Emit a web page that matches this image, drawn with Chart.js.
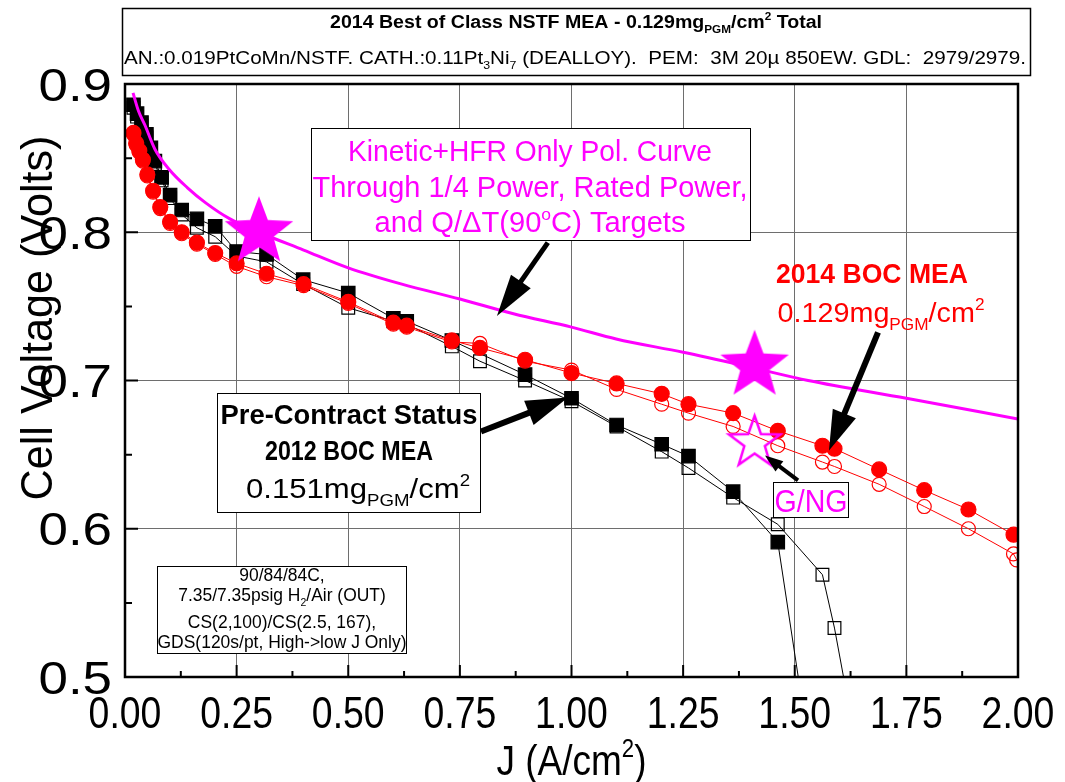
<!DOCTYPE html>
<html>
<head>
<meta charset="utf-8">
<script src="https://cdn.jsdelivr.net/npm/chart.js@4/dist/chart.umd.min.js"></script>
<style>
  html, body { margin: 0; padding: 0; background: #fff; }
  canvas { display: block; }
</style>
</head>
<body>
<canvas id="pol" width="1065" height="782"></canvas>
<script>
// ---------- axis ticks ----------
const xTicks = [0, 0.25, 0.5, 0.75, 1.0, 1.25, 1.5, 1.75, 2.0];
const xTickLabels = ['0.00', '0.25', '0.50', '0.75', '1.00', '1.25', '1.50', '1.75', '2.00'];
const xMinorTicks = [0.125, 0.375, 0.625, 0.875, 1.125, 1.375, 1.625, 1.875];
const yTicks = [0.5, 0.6, 0.7, 0.8, 0.9];
const yTickLabels = ['0.5', '0.6', '0.7', '0.8', '0.9'];
const yMinorTicks = [0.55, 0.65, 0.75, 0.85];

// ---------- 2012 BOC MEA (0.151 mg PGM/cm2), two scans ----------
const j2012A = [0.019, 0.027, 0.037, 0.048, 0.058, 0.067, 0.082, 0.101, 0.127, 0.161, 0.202, 0.250, 0.317, 0.399, 0.500, 0.601, 0.631, 0.732, 0.896, 1.000, 1.101, 1.202, 1.262, 1.362, 1.462, 1.528];
const v2012A = [0.886, 0.880, 0.874, 0.866, 0.857, 0.848, 0.837, 0.825, 0.815, 0.809, 0.804, 0.787, 0.785, 0.768, 0.759, 0.742, 0.740, 0.727, 0.704, 0.688, 0.670, 0.657, 0.649, 0.625, 0.591, 0.460];
const j2012B = [0.019, 0.027, 0.037, 0.048, 0.058, 0.067, 0.082, 0.101, 0.127, 0.161, 0.202, 0.250, 0.317, 0.399, 0.500, 0.601, 0.631, 0.732, 0.795, 0.896, 1.000, 1.101, 1.202, 1.262, 1.362, 1.462, 1.562, 1.589, 1.640];
const v2012B = [0.884, 0.878, 0.872, 0.864, 0.855, 0.846, 0.835, 0.823, 0.812, 0.803, 0.797, 0.784, 0.780, 0.765, 0.749, 0.740, 0.738, 0.723, 0.713, 0.700, 0.686, 0.669, 0.652, 0.641, 0.621, 0.603, 0.569, 0.533, 0.450];

// ---------- 2014 BOC MEA (0.129 mg PGM/cm2), two scans ----------
const j2014A = [0.019, 0.025, 0.032, 0.040, 0.050, 0.063, 0.079, 0.101, 0.127, 0.161, 0.202, 0.250, 0.317, 0.400, 0.500, 0.601, 0.631, 0.732, 0.795, 0.896, 1.000, 1.101, 1.202, 1.262, 1.362, 1.462, 1.562, 1.589, 1.689, 1.790, 1.889, 1.990];
const v2014A = [0.867, 0.860, 0.855, 0.849, 0.839, 0.828, 0.817, 0.807, 0.800, 0.793, 0.786, 0.779, 0.772, 0.765, 0.753, 0.739, 0.737, 0.727, 0.722, 0.714, 0.705, 0.698, 0.691, 0.684, 0.678, 0.666, 0.656, 0.654, 0.640, 0.626, 0.613, 0.596];
const j2014B = [0.019, 0.025, 0.032, 0.040, 0.050, 0.063, 0.079, 0.101, 0.127, 0.161, 0.202, 0.250, 0.317, 0.400, 0.500, 0.601, 0.631, 0.732, 0.795, 0.896, 1.000, 1.101, 1.202, 1.262, 1.362, 1.462, 1.562, 1.589, 1.689, 1.790, 1.889, 1.990, 1.997];
const v2014B = [0.866, 0.859, 0.854, 0.848, 0.838, 0.827, 0.816, 0.806, 0.799, 0.792, 0.785, 0.777, 0.770, 0.764, 0.752, 0.738, 0.736, 0.726, 0.725, 0.713, 0.707, 0.694, 0.684, 0.678, 0.669, 0.656, 0.645, 0.642, 0.630, 0.615, 0.600, 0.583, 0.579];

// ---------- kinetic + HFR only polarization curve ----------
const jKinetic = [0.018, 0.030, 0.045, 0.067, 0.100, 0.140, 0.180, 0.235, 0.300, 0.400, 0.500, 0.620, 0.750, 0.870, 1.000, 1.100, 1.250, 1.400, 1.530, 1.750, 2.000];
const vKinetic = [0.894, 0.882, 0.872, 0.856, 0.842, 0.830, 0.820, 0.809, 0.800, 0.788, 0.776, 0.765, 0.755, 0.745, 0.736, 0.728, 0.719, 0.709, 0.700, 0.688, 0.674];

// ---------- targets ----------
const jTargets = [0.30, 1.41];
const vTargets = [0.800, 0.710];
const jGoNoGo = [1.41];
const vGoNoGo = [0.658];

// ---------- helpers ----------
const FONT = '"Liberation Sans", Arial, Helvetica, sans-serif';
const MAGENTA = '#ff00ff';
const RED = '#ff0000';

function pts(xs, ys) { return xs.map((x, i) => ({ x: x, y: ys[i] })); }
function fontStr(size, bold) { return (bold ? 'bold ' : '') + size + 'px ' + FONT; }

// segments: [text, mode]  mode 0 = normal, 1 = subscript, 2 = superscript
function richWidth(ctx, segs, size, bold) {
  let w = 0;
  for (const [t, m] of segs) { ctx.font = fontStr(m ? size * 0.6 : size, bold); w += ctx.measureText(t).width; }
  return w;
}
function drawRich(ctx, segs, cx, base, size, o) {
  o = o || {};
  const bold = !!o.bold;
  const w = richWidth(ctx, segs, size, bold);
  const s = o.width ? o.width / w : (o.sx || 1);
  ctx.save();
  const startX = o.align === 'right' ? cx - w * s : cx - w * s / 2;
  ctx.translate(startX, base);
  ctx.scale(s, 1);
  ctx.fillStyle = o.color || '#000';
  ctx.textAlign = 'left';
  ctx.textBaseline = 'alphabetic';
  let x = 0;
  for (const [t, m] of segs) {
    ctx.font = fontStr(m ? size * 0.6 : size, bold);
    const dy = m === 1 ? size * 0.27 : (m === 2 ? -size * 0.42 : 0);
    ctx.fillText(t, x, dy);
    x += ctx.measureText(t).width;
  }
  ctx.restore();
}
function box(ctx, x0, y0, x1, y1, lw) {
  ctx.save();
  ctx.fillStyle = '#fff';
  ctx.fillRect(x0, y0, x1 - x0, y1 - y0);
  ctx.strokeStyle = '#000';
  ctx.lineWidth = lw || 1;
  ctx.strokeRect(x0, y0, x1 - x0, y1 - y0);
  ctx.restore();
}
function arrow(ctx, x0, y0, x1, y1, shaft, headLen, headW) {
  const a = Math.atan2(y1 - y0, x1 - x0);
  const L = Math.hypot(x1 - x0, y1 - y0);
  ctx.save();
  ctx.translate(x1, y1);
  ctx.rotate(a);
  ctx.fillStyle = '#000';
  ctx.fillRect(-L, -shaft / 2, L - headLen + 2, shaft);
  ctx.beginPath();
  ctx.moveTo(0, 0);
  ctx.lineTo(-headLen, -headW / 2);
  ctx.lineTo(-headLen, headW / 2);
  ctx.closePath();
  ctx.fill();
  ctx.restore();
}
function makeStar(R, ratio, fill, stroke, lw) {
  const size = Math.ceil(2 * R + 2 * lw + 4);
  const c = document.createElement('canvas');
  c.width = size; c.height = size;
  const g = c.getContext('2d');
  const cx = size / 2, cy = size / 2;
  g.beginPath();
  for (let i = 0; i < 10; i++) {
    const r = i % 2 ? R * ratio : R;
    const ang = -Math.PI / 2 + i * Math.PI / 5;
    g.lineTo(cx + r * Math.cos(ang), cy + r * Math.sin(ang));
  }
  g.closePath();
  if (fill) { g.fillStyle = fill; g.fill(); }
  if (stroke) { g.strokeStyle = stroke; g.lineWidth = lw; g.lineJoin = 'miter'; g.stroke(); }
  return c;
}

const starFilled = makeStar(36, 0.42, MAGENTA, null, 0);
const starOpen = makeStar(27, 0.40, null, MAGENTA, 2.5);

// ---------- annotations, frame, ticks and labels ----------
const decor = {
  id: 'decor',
  afterDraw(chart) {
    const { ctx, chartArea: a, scales: { x, y } } = chart;
    const X = v => x.getPixelForValue(v);
    const Y = v => y.getPixelForValue(v);

    // inward tick marks
    ctx.save();
    ctx.strokeStyle = '#000';
    ctx.lineWidth = 2;
    ctx.beginPath();
    xTicks.forEach(v => { ctx.moveTo(X(v), a.bottom); ctx.lineTo(X(v), a.bottom - 12); });
    xMinorTicks.forEach(v => { ctx.moveTo(X(v), a.bottom); ctx.lineTo(X(v), a.bottom - 6); });
    yTicks.forEach(v => { ctx.moveTo(a.left, Y(v)); ctx.lineTo(a.left + 13, Y(v)); });
    yMinorTicks.forEach(v => { ctx.moveTo(a.left, Y(v)); ctx.lineTo(a.left + 7, Y(v)); });
    ctx.stroke();
    // plot frame
    ctx.lineWidth = 2.5;
    ctx.strokeRect(a.left, a.top, a.right - a.left, a.bottom - a.top);
    ctx.restore();

    // tick labels
    xTicks.forEach((v, i) => drawRich(ctx, [[xTickLabels[i], 0]], X(v), a.bottom + 51, 44, { sx: 0.85 }));
    yTicks.forEach((v, i) => drawRich(ctx, [[yTickLabels[i], 0]], a.left - 13, Y(v) + 16.5, 46, { sx: 1.15, align: 'right' }));

    // axis titles
    drawRich(ctx, [['J (A/cm', 0], ['2', 2], [')', 0]], (a.left + a.right) / 2, 775, 42, { width: 150 });
    ctx.save();
    ctx.translate(52, 318);
    ctx.rotate(-Math.PI / 2);
    drawRich(ctx, [['Cell Voltage (Volts)', 0]], 0, 0, 44, { width: 365 });
    ctx.restore();

    // header box
    box(ctx, 122.5, 8.5, 1030.5, 75.5, 1.5);
    drawRich(ctx, [['2014 Best of Class NSTF MEA - 0.129mg', 0], ['PGM', 1], ['/cm', 0], ['2', 2], [' Total', 0]],
      576, 28, 18, { bold: true, width: 492 });
    drawRich(ctx, [['AN.:0.019PtCoMn/NSTF. CATH.:0.11Pt', 0], ['3', 1], ['Ni', 0], ['7', 1],
      [' (DEALLOY).  PEM:  3M 20\u00b5 850EW. GDL:  2979/2979.', 0]], 575, 64, 19, { width: 902 });

    // kinetic curve note
    box(ctx, 311.5, 128.5, 750.5, 240.5, 1);
    drawRich(ctx, [['Kinetic+HFR Only Pol. Curve', 0]], 530, 161, 29, { color: MAGENTA, width: 364 });
    drawRich(ctx, [['Through 1/4 Power, Rated Power,', 0]], 530, 197, 29, { color: MAGENTA, width: 435 });
    drawRich(ctx, [['and Q/\u0394T(90', 0], ['o', 2], ['C) Targets', 0]], 530, 232, 29, { color: MAGENTA, width: 311 });
    arrow(ctx, X(0.947), Y(0.793), X(0.833), Y(0.7435), 5, 42, 24);

    // 2014 MEA label
    drawRich(ctx, [['2014 BOC MEA', 0]], 872, 283, 27, { bold: true, color: RED, width: 192 });
    drawRich(ctx, [['0.129mg', 0], ['PGM', 1], ['/cm', 0], ['2', 2]], 881, 322, 28, { color: RED, width: 207 });
    arrow(ctx, X(1.6865), Y(0.7324), X(1.5767), Y(0.6528), 6, 40, 25);

    // 2012 MEA label
    box(ctx, 217.5, 393.5, 480.5, 512.5, 1);
    drawRich(ctx, [['Pre-Contract Status', 0]], 349, 424, 27, { bold: true, width: 257 });
    drawRich(ctx, [['2012 BOC MEA', 0]], 349, 460, 27, { bold: true, width: 168 });
    drawRich(ctx, [['0.151mg', 0], ['PGM', 1], ['/cm', 0], ['2', 2]], 358, 498, 28, { width: 224 });
    arrow(ctx, X(0.7973), Y(0.6656), X(0.9922), Y(0.6885), 6, 42, 26);

    // go / no-go label
    box(ctx, 773.5, 482.5, 848.5, 517.5, 1);
    drawRich(ctx, [['G/NG', 0]], 811, 512, 32, { color: MAGENTA, width: 73 });
    arrow(ctx, X(1.5073), Y(0.6326), X(1.4334), Y(0.6494), 4, 18, 13);

    // test conditions
    box(ctx, 157.5, 566.5, 406.5, 653.5, 1);
    drawRich(ctx, [['90/84/84C,', 0]], 282, 581, 18, { sx: 0.97 });
    drawRich(ctx, [['7.35/7.35psig H', 0], ['2', 1], ['/Air (OUT)', 0]], 282, 601, 18, { sx: 0.97 });
    drawRich(ctx, [['CS(2,100)/CS(2.5, 167),', 0]], 282, 628, 18, { sx: 0.97 });
    drawRich(ctx, [['GDS(120s/pt, High->low J Only)', 0]], 282, 648, 18, { width: 249 });
  }
};

// ---------- chart ----------
const sq = { pointStyle: 'rect', pointRadius: 9.5, pointBorderWidth: 1.2, borderWidth: 1, showLine: true, tension: 0, clip: 0 };
const ci = { pointStyle: 'circle', pointRadius: 7.5, pointBorderWidth: 1.2, borderWidth: 1, showLine: true, tension: 0, clip: 0 };

new Chart(document.getElementById('pol'), {
  type: 'scatter',
  data: {
    datasets: [
      { label: 'Q/\u0394T and power targets', data: pts(jTargets, vTargets), pointStyle: starFilled, pointRadius: 30, showLine: false, order: 0, clip: false },
      { label: 'G/NG', data: pts(jGoNoGo, vGoNoGo), pointStyle: starOpen, pointRadius: 25, showLine: false, order: 0, clip: false },
      { label: 'Kinetic+HFR Only', data: pts(jKinetic, vKinetic), showLine: true, borderColor: MAGENTA, borderWidth: 3,
        pointRadius: 0, cubicInterpolationMode: 'monotone', order: 1, clip: 0 },
      Object.assign({ label: '2014 BOC MEA (scan 2)', data: pts(j2014B, v2014B), borderColor: RED,
        pointBorderColor: RED, pointBackgroundColor: 'rgba(0,0,0,0)', order: 2 }, ci, { pointRadius: 7 }),
      Object.assign({ label: '2014 BOC MEA (scan 1)', data: pts(j2014A, v2014A), borderColor: RED,
        pointBorderColor: RED, pointBackgroundColor: RED, order: 3 }, ci),
      Object.assign({ label: '2012 BOC MEA (scan 2)', data: pts(j2012B, v2012B), borderColor: '#000',
        pointBorderColor: '#000', pointBackgroundColor: 'rgba(0,0,0,0)', order: 4 }, sq, { pointRadius: 9 }),
      Object.assign({ label: '2012 BOC MEA (scan 1)', data: pts(j2012A, v2012A), borderColor: '#000',
        pointBorderColor: '#000', pointBackgroundColor: '#000', order: 5 }, sq)
    ]
  },
  options: {
    responsive: false,
    animation: false,
    devicePixelRatio: 1,
    layout: { padding: { left: 0, right: 47, top: 84, bottom: 0 } },
    plugins: { legend: { display: false }, tooltip: { enabled: false } },
    elements: { line: { borderJoinStyle: 'miter' } },
    scales: {
      x: {
        type: 'linear', min: 0, max: 2,
        afterBuildTicks: s => { s.ticks = xTicks.map(v => ({ value: v })); },
        afterFit: s => { s.height = 105; },
        ticks: { display: false },
        grid: { color: '#6e6e6e', lineWidth: 1, drawTicks: false },
        border: { display: false }
      },
      y: {
        type: 'linear', min: 0.5, max: 0.9,
        afterBuildTicks: s => { s.ticks = yTicks.map(v => ({ value: v })); },
        afterFit: s => { s.width = 125; },
        ticks: { display: false },
        grid: { color: '#6e6e6e', lineWidth: 1, drawTicks: false },
        border: { display: false }
      }
    }
  },
  plugins: [decor]
});
</script>
</body>
</html>
